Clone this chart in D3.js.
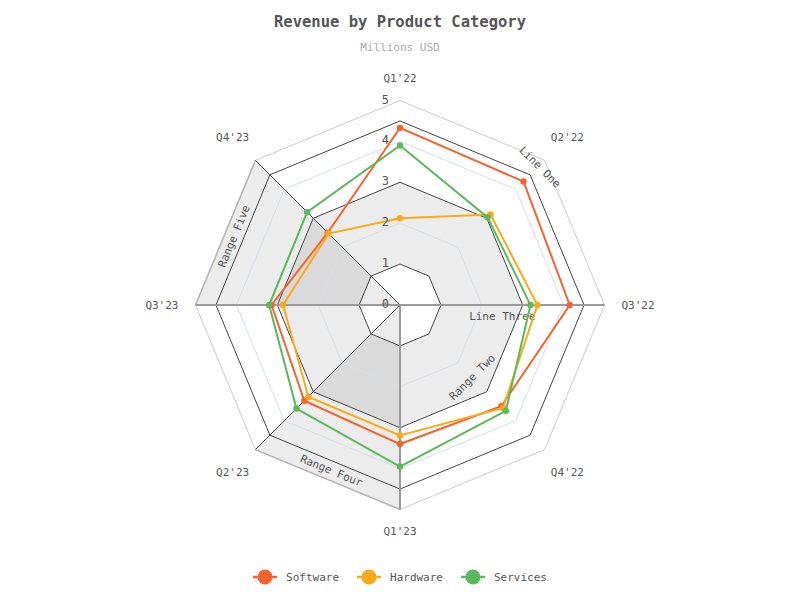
<!DOCTYPE html>
<html>
<head>
<meta charset="utf-8">
<script src="https://cdn.jsdelivr.net/npm/d3@7"></script>
<style>
  html, body { margin: 0; padding: 0; background: #fff; }
  svg { display: block; }
  text { font-family: "DejaVu Sans Mono", monospace; }
</style>
</head>
<body>
<svg id="chart" width="800" height="600"></svg>
<script>
// ---- data ----
const categories = ["Q1'22", "Q2'22", "Q3'22", "Q4'22", "Q1'23", "Q2'23", "Q3'23", "Q4'23"];
const seriesNames = ["Software", "Hardware", "Services"];
const software = [4.33, 4.27, 4.15, 3.50, 3.40, 3.31, 3.14, 2.50];
const hardware = [2.12, 3.13, 3.36, 3.56, 3.19, 3.17, 2.86, 2.47];
const services = [3.90, 3.03, 3.19, 3.66, 3.95, 3.58, 3.20, 3.21];
const valueTicks = [0, 1, 2, 3, 4, 5];
const colors = ["#f4632e", "#fba919", "#5cb85c"];

const svg = d3.select("#chart");
const cx = 400, cy = 305;
const g = svg.append("g").attr("transform", `translate(${cx},${cy})`);

const r = d3.scaleLinear().domain([0, 5]).range([0, 204.5]);
const angle = d3.scaleLinear().domain([0, categories.length]).range([0, 2 * Math.PI]);
const px = (i, v) => r(v) * Math.sin(angle(i));
const py = (i, v) => -r(v) * Math.cos(angle(i));

const ringPath = v => d3.lineRadial()
  .angle((d, i) => angle(i)).radius(() => r(v))
  .curve(d3.curveLinearClosed)(categories);

// category range sectors
const catRanges = [
  { from: 6, to: 7, label: "Range Five" },
  { from: 4, to: 5, label: "Range Four" }
];
catRanges.forEach(cr => {
  g.append("path")
    .attr("d", `M0,0L${px(cr.from, 5)},${py(cr.from, 5)}L${px(cr.to, 5)},${py(cr.to, 5)}Z`)
    .attr("fill", "rgba(0,0,0,0.075)");
});

// value range band 1..3
g.append("path")
  .attr("d", ringPath(3) + ringPath(1))
  .attr("fill-rule", "evenodd")
  .attr("fill", "rgba(0,0,0,0.075)");

// grid rings
[2, 4].forEach(v => g.append("path").attr("d", ringPath(v))
  .attr("fill", "none").attr("stroke", "#d6dfe8").attr("stroke-width", 1));
g.append("path").attr("d", ringPath(5))
  .attr("fill", "none").attr("stroke", "#cccccc").attr("stroke-width", 1);

// dark rings (range borders and line one)
[1, 3, 4.5].forEach(v => g.append("path").attr("d", ringPath(v))
  .attr("fill", "none").attr("stroke", "#444").attr("stroke-width", 1));

// category range outer edges and border spokes
catRanges.forEach(cr => {
  g.append("line")
    .attr("x1", px(cr.from, 5)).attr("y1", py(cr.from, 5))
    .attr("x2", px(cr.to, 5)).attr("y2", py(cr.to, 5))
    .attr("stroke", "#b5b5b5").attr("stroke-width", 1.5);
  g.append("line")
    .attr("x1", 0).attr("y1", 0)
    .attr("x2", px(cr.to, 5)).attr("y2", py(cr.to, 5))
    .attr("stroke", "#444").attr("stroke-width", 1);
});

// thick gray axis lines
[2, 6, 4].forEach(i => {
  g.append("line")
    .attr("x1", 0).attr("y1", 0)
    .attr("x2", px(i, 5)).attr("y2", py(i, 5))
    .attr("stroke", "#9a9a9a").attr("stroke-width", 2);
});

// range labels
const midA = Math.PI / categories.length;
catRanges.forEach(cr => {
  const a = (angle(cr.from) + angle(cr.to)) / 2;
  const rr = r(4.75) * Math.cos(midA);
  const x = rr * Math.sin(a), y = -rr * Math.cos(a);
  let rot = a * 180 / Math.PI - 180;
  if (rot > 90) rot -= 180;
  if (rot < -90) rot += 180;
  g.append("text")
    .attr("transform", `translate(${x},${y}) rotate(${rot})`)
    .attr("text-anchor", "middle").attr("dominant-baseline", "central")
    .attr("font-size", 11).attr("fill", "#555").text(cr.label);
});
// Line One (value line 4.5) label
{
  const i = 1, rr = r(4.8);
  g.append("text")
    .attr("transform", `translate(${px(i, 4.8) + 1},${py(i, 4.8) + 1}) rotate(45)`)
    .attr("text-anchor", "middle").attr("dominant-baseline", "central")
    .attr("font-size", 11).attr("fill", "#555").text("Line One");
}
// Range Two label
g.append("text")
  .attr("transform", `translate(${px(3, 2.5)},${py(3, 2.5)}) rotate(-45)`)
  .attr("text-anchor", "middle").attr("dominant-baseline", "central")
  .attr("font-size", 11).attr("fill", "#555").text("Range Two");
// Line Three label
g.append("text")
  .attr("x", px(2, 2.5)).attr("y", py(2, 2.5) + 11)
  .attr("text-anchor", "middle").attr("dominant-baseline", "central")
  .attr("font-size", 11).attr("fill", "#555").text("Line Three");

// category labels
categories.forEach((c, i) => {
  const a = angle(i);
  const t = g.append("text")
    .attr("text-anchor", "middle").attr("dominant-baseline", "central")
    .attr("font-size", 11).attr("fill", "#555").text(c);
  const hw = t.node().getComputedTextLength() / 2, hh = 5;
  const rr = r(5) + 17 + Math.abs(Math.sin(a)) * hw + Math.abs(Math.cos(a)) * hh;
  t.attr("x", rr * Math.sin(a)).attr("y", -rr * Math.cos(a));
});

// series
const allSeries = [software, hardware, services];
allSeries.forEach((vals, si) => {
  g.append("path")
    .attr("d", d3.lineRadial().angle((d, i) => angle(i)).radius(d => r(d))
      .curve(d3.curveLinearClosed)(vals))
    .attr("fill", "none").attr("stroke", colors[si]).attr("stroke-width", 2);
  g.selectAll(null).data(vals).enter().append("circle")
    .attr("cx", (d, i) => px(i, d)).attr("cy", (d, i) => py(i, d))
    .attr("r", 3.2).attr("fill", colors[si]);
});

// value tick labels
valueTicks.forEach(v => {
  g.append("text")
    .attr("x", -11).attr("y", -r(v) - 1)
    .attr("text-anchor", "end").attr("dominant-baseline", "central")
    .attr("font-size", 12).attr("fill", "#555").text(v);
});

// title
svg.append("text").attr("x", 400).attr("y", 22)
  .attr("text-anchor", "middle").attr("dominant-baseline", "central")
  .attr("font-size", 15.5).attr("font-weight", "bold").attr("fill", "#555")
  .text("Revenue by Product Category");
svg.append("text").attr("x", 400).attr("y", 47)
  .attr("text-anchor", "middle").attr("dominant-baseline", "central")
  .attr("font-size", 11).attr("fill", "#aaa")
  .text("Millions USD");

// legend
const lg = svg.append("g");
let xpos = 0;
const items = [];
seriesNames.forEach((n, si) => {
  const it = lg.append("g");
  it.append("line").attr("x1", 0).attr("x2", 24).attr("y1", 0).attr("y2", 0)
    .attr("stroke", colors[si]).attr("stroke-width", 2.5);
  it.append("circle").attr("cx", 12).attr("cy", 0).attr("r", 7.5).attr("fill", colors[si]);
  const t = it.append("text").attr("x", 33).attr("y", 0)
    .attr("dominant-baseline", "central").attr("font-size", 11).attr("fill", "#555").text(n);
  const w = 33 + t.node().getComputedTextLength();
  it.attr("transform", `translate(${xpos},0)`);
  xpos += w + 18;
});
const total = xpos - 18;
lg.attr("transform", `translate(${400 - total / 2},577)`);
</script>
</body>
</html>
